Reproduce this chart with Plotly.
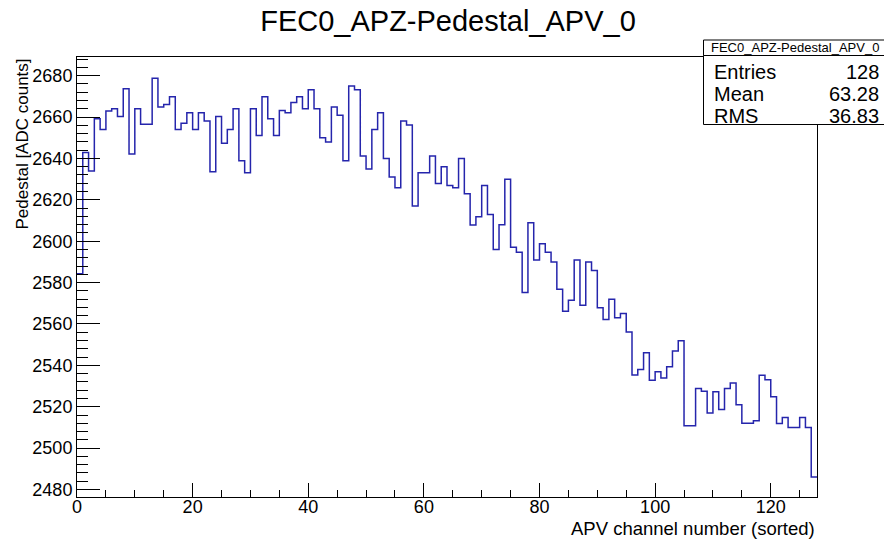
import plotly.graph_objects as go

# ---- data ----
channels = list(range(128))
pedestal = [
    2584.3, 2642.8, 2633.9, 2659.2, 2654.0, 2662.9, 2664.0, 2660.2, 2673.6, 2642.1,
    2664.0, 2656.5, 2656.5, 2678.7, 2664.8, 2666.1, 2669.8, 2654.0, 2657.0, 2662.1,
    2654.0, 2662.1, 2658.1, 2633.6, 2660.2, 2647.3, 2654.0, 2664.0, 2638.9, 2633.1,
    2664.0, 2651.1, 2669.8, 2659.2, 2651.1, 2663.1, 2662.1, 2667.0, 2669.8, 2664.0,
    2673.2, 2664.0, 2650.0, 2647.9, 2664.8, 2660.8, 2638.9, 2675.0, 2673.2, 2641.2,
    2634.9, 2654.0, 2662.1, 2639.9, 2631.0, 2625.8, 2658.1, 2656.1, 2617.0, 2633.1,
    2633.1, 2641.2, 2627.9, 2636.0, 2626.9, 2625.8, 2639.9, 2622.9, 2607.8, 2611.8,
    2626.9, 2612.9, 2596.0, 2608.0, 2629.9, 2597.1, 2594.7, 2575.2, 2608.9, 2590.9,
    2598.8, 2594.7, 2589.9, 2576.8, 2566.2, 2571.5, 2590.9, 2569.0, 2589.9, 2585.9,
    2567.8, 2562.2, 2571.9, 2563.0, 2565.1, 2556.1, 2535.3, 2538.0, 2546.1, 2532.8,
    2536.9, 2533.9, 2539.3, 2546.9, 2551.9, 2510.8, 2510.8, 2528.8, 2527.5, 2517.0,
    2527.2, 2518.7, 2528.8, 2531.5, 2521.0, 2512.0, 2512.0, 2513.2, 2535.2, 2533.0,
    2524.8, 2511.9, 2514.8, 2510.0, 2510.0, 2514.8, 2510.0, 2486.1,
]
title_text = "FEC0_APZ-Pedestal_APV_0"
x_title = "APV channel number (sorted)"
y_title = "Pedestal [ADC counts]"
stat_names = ["Entries", "Mean", "RMS"]
stat_values = ["128", "63.28", "36.83"]

# ---- layout geometry (pixels) ----
W, H = 884, 539
L, R, T, B = 77, 817, 57, 497


def px(xp):
    return (xp - L) / (R - L)


def py(yp):
    return (B - yp) / (B - T)


edges = channels + [128]
yvals = pedestal + [pedestal[-1]]

fig = go.Figure()
fig.add_trace(go.Scatter(
    x=edges, y=yvals, mode="lines", line_shape="hv",
    line=dict(color="#2525ac", width=1.5), hoverinfo="skip", showlegend=False,
))

font = "Liberation Sans, Arial, sans-serif"

fig.update_layout(
    width=W, height=H,
    margin=dict(l=L, r=W - R, t=T, b=H - B),
    paper_bgcolor="white", plot_bgcolor="white",
    title=dict(text=title_text, x=448 / W, xanchor="center", xref="container",
               y=1 - 21 / H, yanchor="middle", yref="container",
               font=dict(family=font, size=29, color="black")),
    showlegend=False,
)

fig.update_xaxes(
    range=[0, 128], dtick=20, tick0=0, ticks="inside", ticklen=14, tickcolor="black",
    showline=True, linecolor="black", linewidth=1, mirror=True, showgrid=False, zeroline=False,
    tickfont=dict(family=font, size=18, color="black"), ticklabelstandoff=-7,
    minor=dict(dtick=5, ticks="inside", ticklen=7, tickcolor="black", showgrid=False),
)
fig.update_yaxes(
    range=[2476.4, 2689], dtick=20, tick0=2480, ticks="inside", ticklen=23, tickcolor="black",
    showline=True, linecolor="black", linewidth=1, mirror=True, showgrid=False, zeroline=False,
    tickfont=dict(family=font, size=18, color="black"),
    minor=dict(dtick=4, ticks="inside", ticklen=11, tickcolor="black", showgrid=False),
)

# axis titles
fig.add_annotation(text=x_title, xref="paper", yref="paper", x=1, y=py(528.5),
                   xanchor="right", yanchor="middle", showarrow=False,
                   font=dict(family=font, size=18.5, color="black"))
fig.add_annotation(text=y_title, xref="paper", yref="paper", x=px(22), y=py(57),
                   xanchor="center", yanchor="top", textangle=-90, showarrow=False,
                   font=dict(family=font, size=17, color="black"))

# stat box
bx0, bx1 = 703.5, 890
fig.add_shape(type="rect", xref="paper", yref="paper", x0=px(bx0), x1=px(bx1),
              y0=py(124.5), y1=py(55.5), line=dict(color="black", width=1),
              fillcolor="white", layer="above")
fig.add_shape(type="rect", xref="paper", yref="paper", x0=px(bx0), x1=px(bx1),
              y0=py(55.5), y1=py(40), line=dict(color="black", width=1),
              fillcolor="white", layer="above")
fig.add_annotation(text=title_text, xref="paper", yref="paper", x=px(795), y=py(47.5),
                   xanchor="center", yanchor="middle", showarrow=False,
                   font=dict(family=font, size=13, color="black"))
rows_y = [72, 94, 115.5]
for name, val, yy in zip(stat_names, stat_values, rows_y):
    fig.add_annotation(text=name, xref="paper", yref="paper", x=px(712), y=py(yy),
                       xanchor="left", yanchor="middle", showarrow=False,
                       font=dict(family=font, size=20, color="black"))
    fig.add_annotation(text=val, xref="paper", yref="paper", x=px(881), y=py(yy),
                       xanchor="right", yanchor="middle", showarrow=False,
                       font=dict(family=font, size=20, color="black"))

fig.write_html("out.html")
